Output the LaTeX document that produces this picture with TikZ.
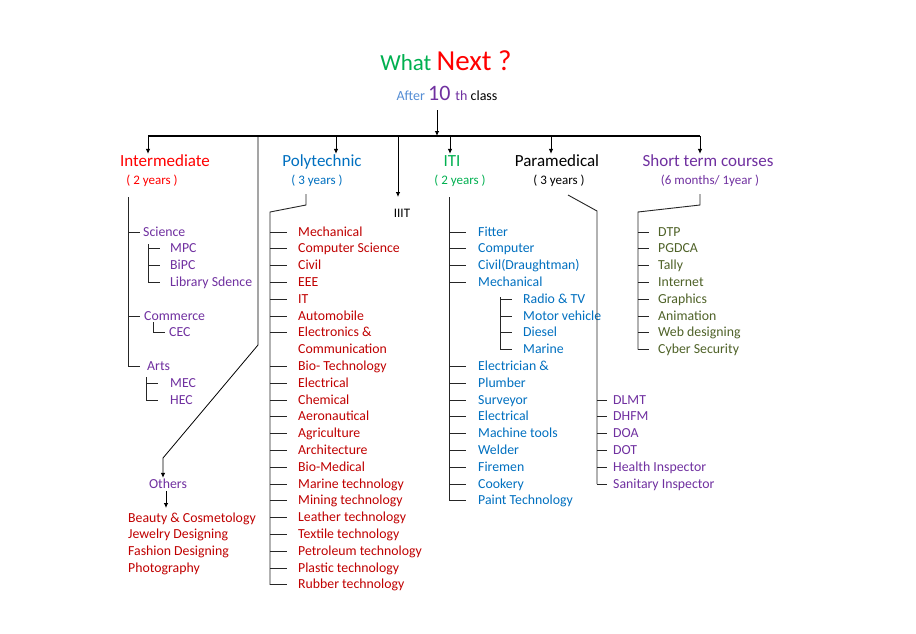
\documentclass[tikz,border=0pt]{standalone}
\usepackage{fontspec}
\setmainfont{Carlito}
\usetikzlibrary{arrows.meta}
\definecolor{cRed}{HTML}{FF0000}
\definecolor{cDark}{HTML}{C00000}
\definecolor{cBlue}{HTML}{0070C0}
\definecolor{cGreen}{HTML}{00B050}
\definecolor{cPurple}{HTML}{7030A0}
\definecolor{cLight}{HTML}{558ED5}
\definecolor{cOlive}{HTML}{4F6228}
\tikzset{
  item/.style={anchor=west, inner sep=0pt, font=\fontsize{13.8}{16}\selectfont, text height=10pt, text depth=2pt},
  head/.style={inner sep=0pt, font=\fontsize{17}{20}\selectfont, text height=12pt, text depth=4pt},
  sub/.style={inner sep=0pt, font=\fontsize{13}{16}\selectfont, text height=9pt, text depth=3pt},
  ln/.style={line width=0.9pt, draw=black!85},
  arr/.style={line width=0.8pt, draw=black, -{Latex[length=5pt,width=4.5pt]}},
}
\begin{document}
\begin{tikzpicture}[x=1pt,y=-1pt]
\useasboundingbox[fill=white] (0,0) rectangle (916,633);

% title
\node[inner sep=0pt] (title) at (446,61) {\fontsize{23}{28}\selectfont\color{cGreen}What \fontsize{29}{32}\selectfont\color{cRed}Next ?};
\node[inner sep=0pt] (after) at (447,93) {\fontsize{14}{16}\selectfont\color{cLight}After \fontsize{22}{24}\selectfont\color{cPurple}10 \fontsize{14}{16}\selectfont th \color{black}class};
\coordinate (mainTop) at (437,110);
\coordinate (barL) at (148,136);
\coordinate (barR) at (700,136);
\draw[arr] (mainTop) -- (mainTop |- barL);
\draw[line width=2pt] (barL) -- (barR);

% headers
\node[head,text=cRed] (inter) at (165,162) {Intermediate};
\node[sub,text=cRed] (interY) at (152,181) {( 2 years )};
\node[head,text=cBlue] (poly) at (322,162) {Polytechnic};
\node[sub,text=cBlue] (polyY) at (317,181) {( 3 years )};
\node[head,text=cGreen] (iti) at (452,162) {ITI};
\node[sub,text=cGreen] (itiY) at (460,181) {( 2 years )};
\node[head,text=black] (para) at (557,162) {Paramedical};
\node[sub,text=black] (paraY) at (559,181) {( 3 years )};
\node[head,text=cPurple] (short) at (708,162) {Short term courses};
\node[sub,text=cPurple] (shortY) at (710,181) {(6 months/ 1year )};
\node[sub,text=black] (iiit) at (402,214) {IIIT};

\coordinate (aInt) at (148,136);
\coordinate (aPoly) at (336,136);
\coordinate (aIti) at (450,136);
\coordinate (aPara) at (551,136);
\coordinate (aShort) at (700,136);
\coordinate (aIiit) at (398,136);
\draw[arr] (aInt) -- (aInt |- inter.north);
\draw[arr] (aPoly) -- (aPoly |- poly.north);
\draw[arr] (aIti) -- (aIti |- iti.north);
\draw[arr] (aPara) -- (aPara |- para.north);
\draw[arr] (aShort) -- (aShort |- short.north);
\draw[arr] (aIiit) -- (398,197);

% Intermediate
\node[item,text=cPurple] (sci) at (143,232) {Science};
\node[item,text=cPurple] (mpc) at (170,248.5) {MPC};
\node[item,text=cPurple] (bipc) at (170,265.3) {BiPC};
\node[item,text=cPurple] (lib) at (170,282) {Library Sdence};
\node[item,text=cPurple] (com) at (144,316) {Commerce};
\node[item,text=cPurple] (cec) at (169,332.5) {CEC};
\node[item,text=cPurple] (arts) at (147,366) {Arts};
\node[item,text=cPurple] (mec) at (170,383) {MEC};
\node[item,text=cPurple] (hec) at (170,400) {HEC};
\coordinate (intTop) at (128,197);
\draw[ln,shorten >=7pt] (intTop) |- (arts.west);
\draw[ln] (intTop |- sci.west) -- ++(12,0);
\draw[ln] (intTop |- com.west) -- ++(12,0);
\coordinate (sciB) at (148,244);
\draw[ln,shorten >=10pt] (sciB) |- (lib.west);
\draw[ln] (sciB |- mpc.west) -- ++(12,0);
\draw[ln] (sciB |- bipc.west) -- ++(12,0);
\coordinate (comB) at (153,322);
\draw[ln,shorten >=4pt] (comB) |- (cec.west);
\coordinate (artsB) at (146,377);
\draw[ln,shorten >=12pt] (artsB) |- (hec.west);
\draw[ln] (artsB |- mec.west) -- ++(12,0);

% Others
\node[item,text=cPurple,anchor=center] (others) at (168,484) {Others};
\coordinate (othTop) at (258,136);
\coordinate (othB1) at (258,345);
\coordinate (othB2) at (163,458);
\draw[arr] (othTop) -- (othB1) -- (othB2) -- (othB2 |- others.north);
\coordinate (othA) at (166,491);
\coordinate (othC) at (166,508);
\draw[arr] (othA) -- (othC);
\foreach \t [count=\i] in {Beauty \& Cosmetology, Jewelry Designing, Fashion Designing, Photography}
  \node[item,text=cDark] (oth\i) at (128,{518+(\i-1)*16.8}) {\t};

% Polytechnic
\coordinate (polyA) at (306,194);
\coordinate (polyB) at (306,205);
\coordinate (polyC) at (270,212);
\foreach \t/\k [count=\i] in {Mechanical/1, Computer Science/1, Civil/1, EEE/1, IT/1, Automobile/1, {Electronics \&}/1, Communication/0, Bio- Technology/1, Electrical/1, Chemical/1, Aeronautical/1, Agriculture/1, Architecture/1, Bio-Medical/1, Marine technology/1, Mining technology/1, Leather technology/1, Textile technology/1, Petroleum technology/1, Plastic technology/1, Rubber technology/1}
{
  \node[item,text=cDark] (poly\i) at (298,{232+(\i-1)*16.8}) {\t};
  \ifnum\k=1 \draw[ln] (polyC |- poly\i.west) -- ++(17,0); \fi
}
\draw[ln] (polyA) -- (polyB) -- (polyC) -- (polyC |- poly22.west);

% ITI
\coordinate (itiTop) at (449,197);
\foreach \t [count=\i from 0] in {Fitter, Computer, Civil(Draughtman), Mechanical}
{
  \node[item,text=cBlue] (itiA\i) at (478,{232+\i*16.8}) {\t};
  \draw[ln] (itiTop |- itiA\i.west) -- ++(17,0);
}
\foreach \t [count=\i from 4] in {Radio \& TV, Motor vehicle, Diesel, Marine}
  \node[item,text=cBlue] (itiS\i) at (523,{232+\i*16.8}) {\t};
\coordinate (itiSB) at (500,297);
\draw[ln,shorten >=11pt] (itiSB) |- (itiS7.west);
\foreach \j in {4,5,6} \draw[ln] (itiSB |- itiS\j.west) -- ++(12,0);
\foreach \t [count=\i from 8] in {Electrician \&, Plumber, Surveyor, Electrical, Machine tools, Welder, Firemen, Cookery, Paint Technology}
{
  \node[item,text=cBlue] (itiB\i) at (478,{232+\i*16.8}) {\t};
  \draw[ln] (itiTop |- itiB\i.west) -- ++(17,0);
}
\draw[ln] (itiTop) -- (itiTop |- itiB16.west);

% Paramedical
\coordinate (paraA) at (568,195);
\coordinate (paraB) at (597,211);
\foreach \t [count=\i from 10] in {DLMT, DHFM, DOA, DOT, Health Inspector, Sanitary Inspector}
{
  \node[item,text=cPurple] (para\i) at (613,{232+\i*16.8}) {\t};
  \draw[ln] (paraB |- para\i.west) -- ++(10,0);
}
\draw[ln] (paraA) -- (paraB) -- (paraB |- para15.west);

% Short term
\coordinate (shortA) at (700,194);
\coordinate (shortB) at (700,205);
\coordinate (shortC) at (638,212);
\foreach \t [count=\i from 0] in {DTP, PGDCA, Tally, Internet, Graphics, Animation, Web designing, Cyber Security}
{
  \node[item,text=cOlive] (st\i) at (658,{232+\i*16.8}) {\t};
  \draw[ln] (shortC |- st\i.west) -- ++(11,0);
}
\draw[ln] (shortA) -- (shortB) -- (shortC) -- (shortC |- st7.west);
\end{tikzpicture}
\end{document}
